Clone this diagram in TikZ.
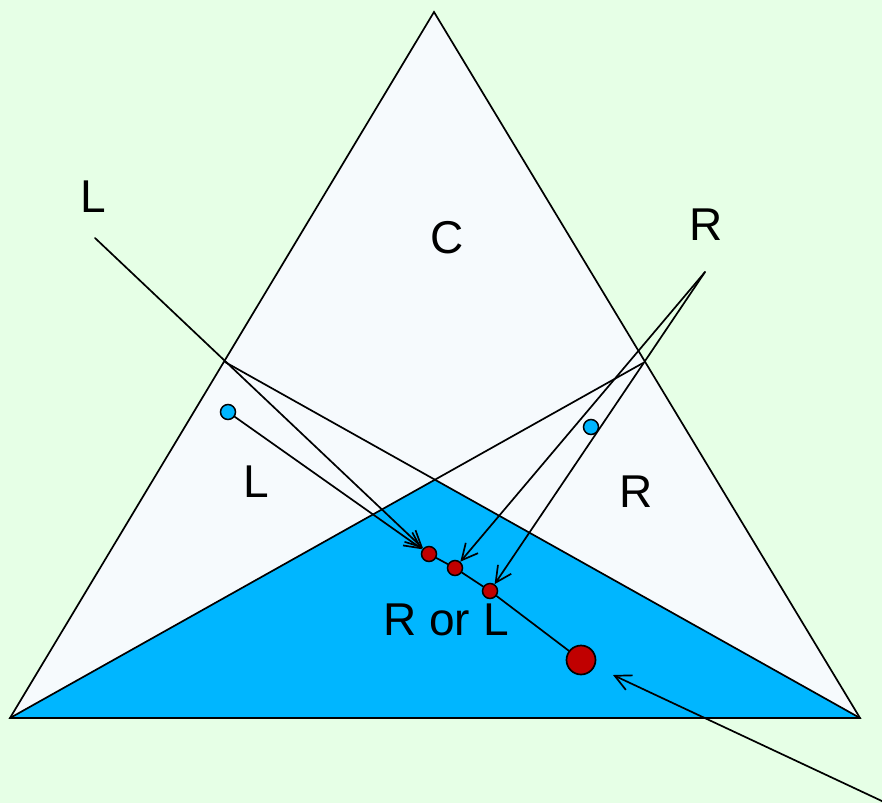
\documentclass[tikz,border=0pt]{standalone}
\usepackage{fontspec}
\setmainfont{Liberation Sans}
\usetikzlibrary{arrows.meta}

\definecolor{bggreen}{RGB}{230,255,230}
\definecolor{paleblue}{RGB}{246,250,253}
\definecolor{skyfill}{RGB}{0,182,255}
\definecolor{dotred}{RGB}{192,0,0}

\begin{document}
\begin{tikzpicture}[
            x=1pt, y=-1pt,
            >={Straight Barb[length=16pt, width=16pt]},
            line cap=round,
            edge/.style={line width=1.7pt},
            ray/.style={line width=1.7pt, ->},
            region label/.style={font=\fontsize{46}{50}\selectfont, inner sep=0pt},
            point cyan/.style={circle, draw=black, fill=skyfill, line width=1.5pt, inner sep=0pt, minimum size=15pt},
            point red/.style={circle, draw=black, fill=dotred, line width=1.5pt, inner sep=0pt, minimum size=15pt},
            point big/.style={circle, draw=black, fill=dotred, line width=1.7pt, inner sep=0pt, minimum size=29pt},
        ]
        \fill[bggreen] (0,0) rectangle (882,803);
        \useasboundingbox (0,0) rectangle (882,803);

        % triangle corners
        \coordinate (top) at (434,12);
        \coordinate (bl) at (10,718);
        \coordinate (br) at (860,718);
        \coordinate (pl) at (225,362);
        \coordinate (pr) at (643,363);
        \coordinate (apex) at (intersection of pl--br and pr--bl);

        \fill[paleblue] (top) -- (bl) -- (br) -- cycle;
        \fill[skyfill] (bl) -- (apex) -- (br) -- cycle;
        \draw[edge, line join=miter] (top) -- (bl) -- (br) -- cycle;
        \draw[edge] (pl) -- (br);
        \draw[edge] (pr) -- (bl);

        % ray sources
        \coordinate (srcL) at (95,238);
        \coordinate (srcR) at (705,272);
        \coordinate (srcB) at (884,802);

        \node[point cyan] (cl) at (228,412) {};
        \node[point cyan] (cr) at (591,427) {};
        \node[point red] (d1) at (429,554) {};
        \node[point red] (d2) at (455,568) {};
        \node[point red] (d3) at (490,591) {};
        \node[point big] (dbig) at (581,660) {};

        \draw[edge] (d1) -- (d2) -- (d3) -- (dbig);
        \draw[ray] (srcL) -- (d1);
        \draw[ray] (cl) -- (d1);
        \draw[ray] (srcR) -- (d2);
        \draw[ray] (srcR) -- (d3);
        \draw[ray, shorten >=20pt] (srcB) -- (dbig);

        \node[region label] (labL) at (93,197) {L};
        \node[region label] (labR) at (706,225) {R};
        \node[region label] (labC) at (447,238) {C};
        \node[region label] (labLin) at (256,482) {L};
        \node[region label] (labRin) at (636,492) {R};
        \node[region label] (labRL) at (446,620) {R or L};
\end{tikzpicture}
\end{document}
